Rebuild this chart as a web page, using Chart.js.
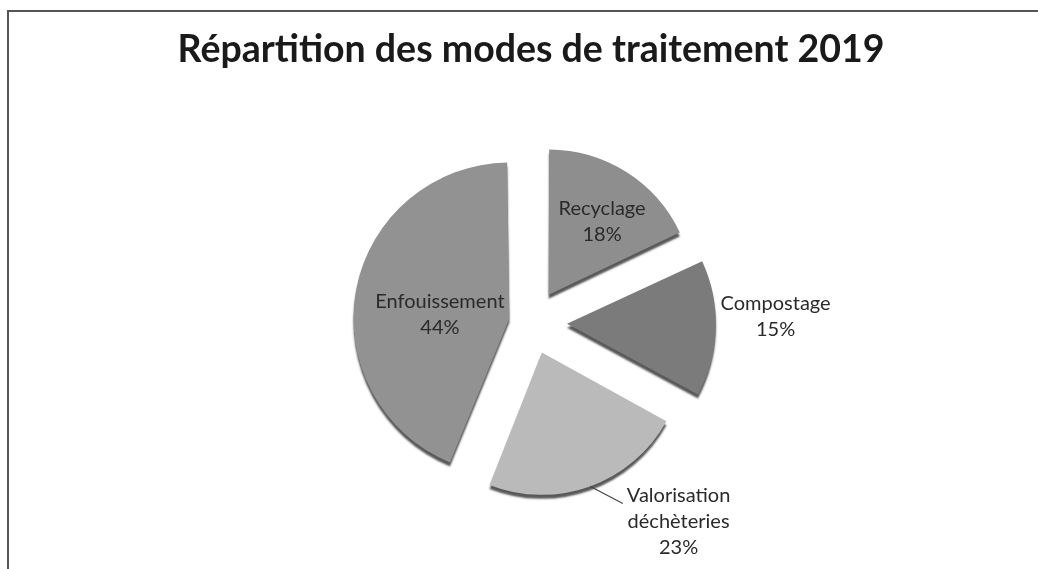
<!DOCTYPE html>
<html>
<head>
<meta charset="utf-8">
<script src="https://cdn.jsdelivr.net/npm/chart.js@4/dist/chart.umd.min.js"></script>
<style>
  body { margin: 0; background: #fff; }
  #frame {
    position: absolute; left: 7px; top: 10px;
    width: 1060px; height: 600px;
    border: 2px solid #555;
  }
  #pie { position: absolute; left: 0; top: 0; }
</style>
</head>
<body>
<div id="frame"></div>
<canvas id="pie" width="1038" height="569"></canvas>
<script>
const categories = ['Recyclage', 'Compostage', ['Valorisation', 'déchèteries'], 'Enfouissement'];
const shares = [18, 15, 23, 44];
const sliceColors = ['#8e8e8e', '#7b7b7b', '#bababa', '#929292'];

// where each data label sits: angle clockwise from 12 o'clock, distance in radii from the slice tip
const labelSpots = [
  { angle: 36, dist: 0.64 },
  { angle: 88, dist: 1.47 },
  { angle: 141, dist: 1.53, leader: true },
  { angle: 273, dist: 0.49 }
];

const sliceLabels = {
  id: 'sliceLabels',
  afterDatasetsDraw(chart) {
    const ctx = chart.ctx;
    const meta = chart.getDatasetMeta(0);
    ctx.save();
    ctx.font = '20px Lato';
    ctx.fillStyle = '#2a2a2a';
    ctx.textAlign = 'center';
    ctx.textBaseline = 'middle';
    meta.data.forEach((arc, i) => {
      const { x, y, startAngle, endAngle, outerRadius } = arc.getProps(['x', 'y', 'startAngle', 'endAngle', 'outerRadius'], true);
      const push = (arc.options.offset || 0) / 4;
      const mid = (startAngle + endAngle) / 2;
      const tipX = x + Math.cos(mid) * push;
      const tipY = y + Math.sin(mid) * push;
      const spot = labelSpots[i];
      const a = (spot.angle - 90) * Math.PI / 180;
      const cx = tipX + Math.cos(a) * spot.dist * outerRadius;
      const cy = tipY + Math.sin(a) * spot.dist * outerRadius;
      const name = chart.data.labels[i];
      const lines = (Array.isArray(name) ? name : [name]).concat(shares[i] + '%');
      const lh = 26;
      const top = cy - (lines.length - 1) * lh / 2;
      lines.forEach((t, k) => ctx.fillText(t, cx, top + k * lh));
      if (spot.leader) {
        const w = ctx.measureText(lines[0]).width;
        ctx.strokeStyle = '#444';
        ctx.lineWidth = 1.2;
        ctx.beginPath();
        ctx.moveTo(tipX + Math.cos(mid) * outerRadius, tipY + Math.sin(mid) * outerRadius);
        ctx.lineTo(cx - w / 2 - 4, top + 8);
        ctx.stroke();
      }
    });
    ctx.restore();
  }
};

// dark rim under the slices, like the 3D look of the original
const sliceRim = {
  id: 'sliceRim',
  beforeDatasetsDraw(chart) {
    const ctx = chart.ctx;
    ctx.save();
    ctx.shadowColor = 'rgba(70,70,70,0.9)';
    ctx.shadowOffsetX = 0;
    ctx.shadowOffsetY = 4;
    ctx.shadowBlur = 2;
  },
  afterDatasetsDraw(chart) {
    chart.ctx.restore();
  }
};

new Chart(document.getElementById('pie'), {
  type: 'pie',
  data: {
    labels: categories,
    datasets: [{
      data: shares,
      backgroundColor: sliceColors,
      borderWidth: 0,
      offset: [132, 144, 128, 88]
    }]
  },
  options: {
    responsive: false,
    animation: false,
    devicePixelRatio: 1,
    radius: 142,
    layout: { padding: { left: 24, right: 0, top: 0, bottom: 0 } },
    plugins: {
      legend: { display: false },
      tooltip: { enabled: false },
      title: {
        display: true,
        text: 'Répartition des modes de traitement 2019',
        color: '#1a1a1a',
        font: { family: 'Lato', size: 37.5, weight: 'bold' },
        padding: { top: 27, bottom: 4 }
      }
    }
  },
  plugins: [sliceRim, sliceLabels]
});
</script>
</body>
</html>
